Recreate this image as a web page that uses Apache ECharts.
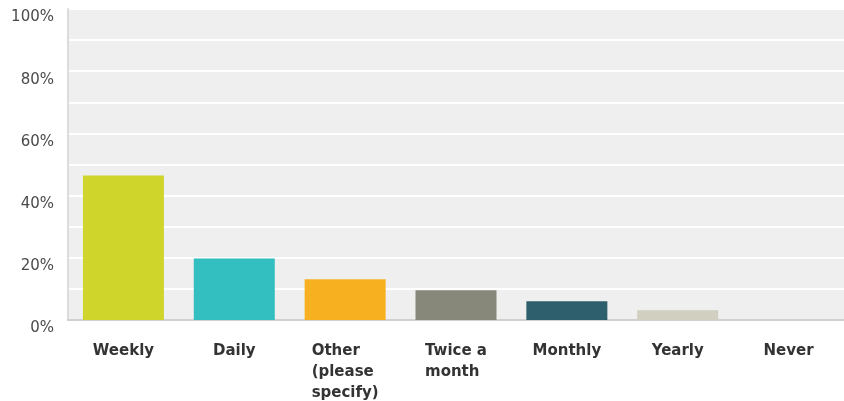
<!DOCTYPE html>
<html>
<head>
<meta charset="utf-8">
<script src="https://cdn.jsdelivr.net/npm/echarts@6/dist/echarts.min.js"></script>
<style>html,body{margin:0;padding:0;background:#fff}#c{width:844px;height:401px}</style>
</head>
<body>
<div id="c"></div>
<script>
const categories = ['Weekly', 'Daily', 'Other\n(please\nspecify)', 'Twice a\nmonth', 'Monthly', 'Yearly', 'Never'];
const values = [46.5, 19.8, 13.1, 9.6, 6.0, 3.1, 0];
const colors = ['#cfd52a', '#33bec0', '#f7b020', '#88887a', '#2d5f6d', '#d0cfc0', '#999999'];
const yTicks = [0, 20, 40, 60, 80, 100];

const chart = echarts.init(document.getElementById('c'));
chart.setOption({
  animation: false,
  grid: { left: 68, right: -1, top: 9, bottom: 79, backgroundColor: '#efefef', show: true, borderWidth: 0 },
  xAxis: {
    type: 'category',
    data: categories,
    axisLine: { show: true, lineStyle: { color: '#d0d0d0', width: 2 } },
    axisTick: { show: false },
    axisLabel: {
      interval: 0,
      margin: 21,
      formatter: v => '{a|' + v.split('\n').join('}\n{a|') + '}',
      rich: { a: { fontFamily: 'DejaVu Sans', fontSize: 15, fontWeight: 'bold', color: '#333', lineHeight: 21, align: 'left' } }
    }
  },
  yAxis: {
    type: 'value',
    min: 0, max: 100, interval: 10,
    axisLine: { show: true, lineStyle: { color: '#dcdcdc', width: 2 } },
    axisTick: { show: false },
    splitLine: { show: true, lineStyle: { color: '#ffffff', width: 2 } },
    axisLabel: {
      margin: 14,
      fontFamily: 'DejaVu Sans',
      fontSize: 15,
      color: '#4a4a4a',
      verticalAlign: 'top',
      lineHeight: 17,
      formatter: v => yTicks.includes(v) ? v + '%' : ''
    }
  },
  series: [{
    type: 'bar',
    data: values.map((v, i) => ({ value: v, itemStyle: { color: colors[i] } })),
    barWidth: 81
  }]
});
</script>
</body>
</html>
